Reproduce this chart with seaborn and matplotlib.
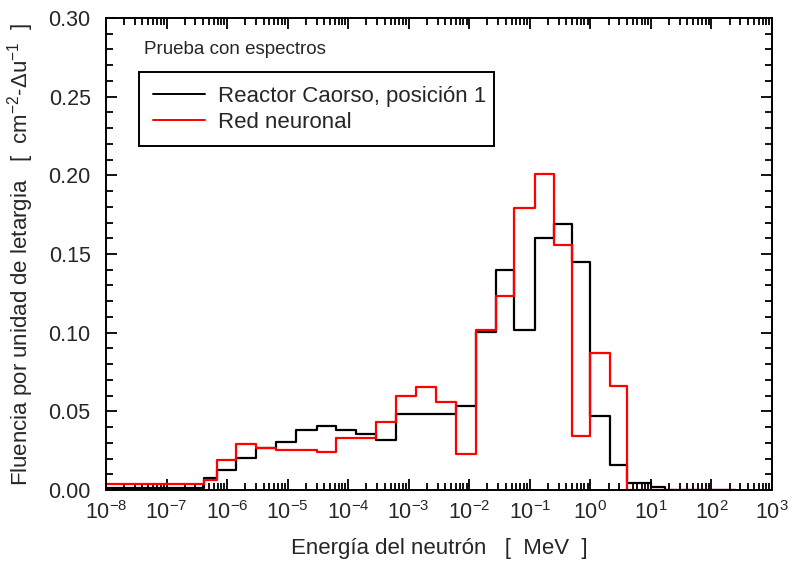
import numpy as np
import pandas as pd
import seaborn as sns
import matplotlib.pyplot as plt
from matplotlib.ticker import LogLocator, MultipleLocator, FuncFormatter

# ---------------------------
# Data
# ---------------------------

# energy bin edges [MeV]
edges = [1e-8, 4.14e-7, 6.8e-7, 1.41e-6, 3.0e-6, 6.5e-6, 1.4e-5, 3.0e-5,
         6.3e-5, 1.35e-4, 2.9e-4, 6.2e-4, 1.33e-3, 2.85e-3, 6.1e-3, 1.3e-2,
         2.8e-2, 5.55e-2, 0.12, 0.25, 0.5, 1.0, 2.15, 4.1, 10.0, 17.0, 250.0]

caorso = [0.0015, 0.0078, 0.0127, 0.0205, 0.0269, 0.0307, 0.0383, 0.0409,
          0.0382, 0.0358, 0.0318, 0.0485, 0.0485, 0.0485, 0.0536, 0.1006,
          0.1400, 0.1017, 0.1604, 0.1692, 0.1451, 0.0472, 0.0158, 0.0042,
          0.0021, 0.0]

neuronal = [0.0040, 0.0066, 0.0193, 0.0294, 0.0269, 0.0256, 0.0256, 0.0243,
            0.0333, 0.0333, 0.0434, 0.0600, 0.0652, 0.0560, 0.0229, 0.1017,
            0.1235, 0.1795, 0.2009, 0.1555, 0.0345, 0.0869, 0.0663, 0.0,
            0.0, 0.0]

labels = ["Reactor Caorso, posición 1", "Red neuronal"]
colors = ["black", "red"]


# ---------------------------
# Style
# ---------------------------

sns.set_style("ticks")
plt.rcParams["font.family"] = ["Liberation Sans", "DejaVu Sans"]
plt.rcParams["mathtext.fontset"] = "custom"
plt.rcParams["mathtext.rm"] = "Liberation Sans"
plt.rcParams["mathtext.it"] = "Liberation Sans:italic"
plt.rcParams["mathtext.default"] = "regular"


# ---------------------------
# Long table for step lines
# ---------------------------

frames = []
for name, vals in zip(labels, [caorso, neuronal]):
    frames.append(pd.DataFrame({
        "Energia": edges,
        "Fluencia": list(vals) + [vals[-1]],
        "Serie": name,
    }))
data = pd.concat(frames, ignore_index=True)


# ---------------------------
# Figure
# ---------------------------

fig = plt.figure(figsize=(7.94, 5.65), dpi=100)
ax = fig.add_axes([106 / 794, 1 - 490 / 565, 666 / 794, 472 / 565])

sns.lineplot(
    data=data, x="Energia", y="Fluencia", hue="Serie",
    palette=dict(zip(labels, colors)), estimator=None, sort=False,
    drawstyle="steps-post", linewidth=1.6, ax=ax
)

ax.set_xscale("log")
ax.set_xlim(1e-8, 1e3)
ax.set_ylim(0, 0.30)

ax.xaxis.set_major_locator(LogLocator(base=10, numticks=30))
ax.xaxis.set_minor_locator(LogLocator(base=10, subs=np.arange(2, 10), numticks=200))
ax.yaxis.set_major_locator(MultipleLocator(0.05))
ax.yaxis.set_minor_locator(MultipleLocator(0.01))
ax.yaxis.set_major_formatter(FuncFormatter(lambda v, _: f"{v:.2f}"))

ax.tick_params(axis="both", which="both", direction="in",
               top=True, right=True, width=1.3, color="black")
ax.tick_params(axis="both", which="major", length=8, labelsize=15.5)
ax.tick_params(axis="both", which="minor", length=5)
ax.tick_params(axis="x", which="major", pad=8)
ax.tick_params(axis="y", which="major", pad=11)

for spine in ax.spines.values():
    spine.set_visible(True)
    spine.set_color("black")
    spine.set_linewidth(1.4)

ax.set_xlabel("Energía del neutrón   [  MeV  ]", fontsize=16, labelpad=10)
ax.set_ylabel("Fluencia por unidad de letargia   [  cm$^{-2}$-Δu$^{-1}$  ]",
              fontsize=16, labelpad=9)

ax.text(0.057, 0.933, "Prueba con espectros", transform=ax.transAxes,
        fontsize=13.5, va="center", ha="left")

leg = ax.legend(
    loc="upper left", bbox_to_anchor=(0.0495, 0.8856, 0.533, 0.0),
    mode="expand", borderaxespad=0, fontsize=16, frameon=True,
    fancybox=False, edgecolor="black", framealpha=1, handlelength=2.35,
    handletextpad=0.6, borderpad=0.62, labelspacing=0.22, title=None
)
leg.get_frame().set_linewidth(1.4)
for line in leg.get_lines():
    line.set_linewidth(1.4)

fig.savefig("out.png", dpi=100)
